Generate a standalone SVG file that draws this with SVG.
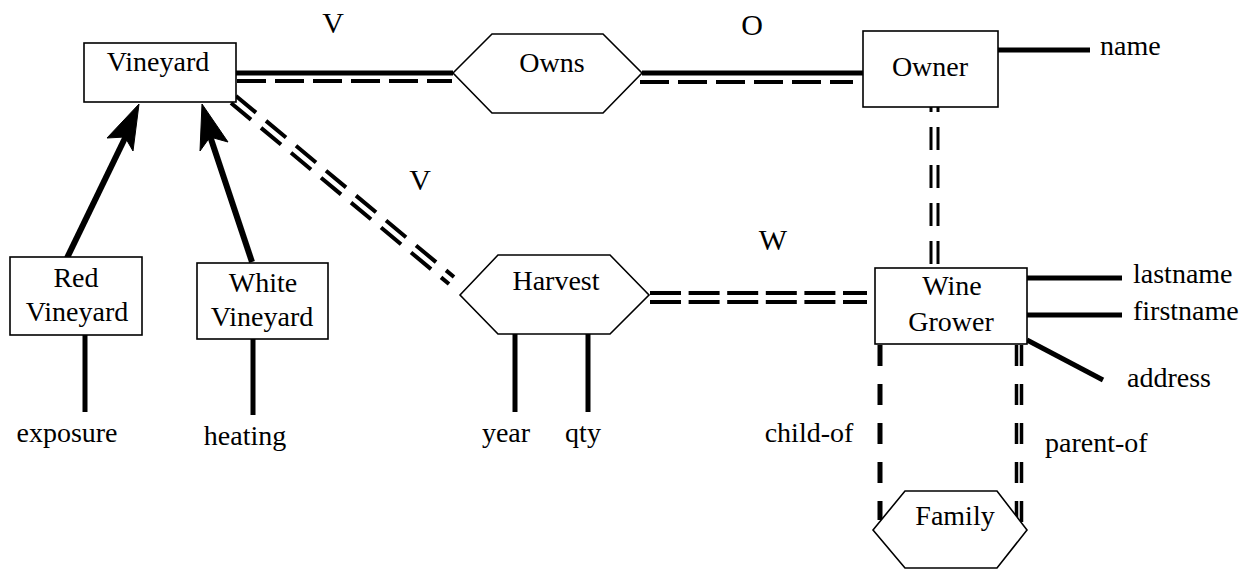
<svg xmlns="http://www.w3.org/2000/svg" width="1254" height="571" viewBox="0 0 1254 571">
<style>
text{font-family:"Liberation Serif","Times New Roman",serif;font-size:28px;fill:#000}
.lbl{font-size:30px}
.box{fill:#fff;stroke:#000;stroke-width:1.6}
.solid{stroke:#000;stroke-width:5;fill:none}
.dash{stroke:#000;stroke-width:4;fill:none;stroke-dasharray:29 9}
.dd{stroke:#000;stroke-width:4;fill:none;stroke-dasharray:31 7.6}
.vd{stroke:#000;stroke-width:3;fill:none;stroke-dasharray:23 15}
.cd{stroke:#000;stroke-width:5;fill:none;stroke-dasharray:21 18}
.diag{stroke:#000;stroke-width:4;fill:none;stroke-dasharray:26 13}
.arr{stroke:#000;stroke-width:6;fill:none}
</style>
<g id="connectors">
<line class="solid" x1="236" y1="73" x2="453" y2="73"/>
<line class="dash" x1="237" y1="81" x2="452" y2="81"/>
<line class="solid" x1="642" y1="73" x2="863" y2="73"/>
<line class="dash" x1="640" y1="82" x2="853" y2="82"/>
<line class="solid" x1="998" y1="50" x2="1090" y2="50"/>
<line class="vd" x1="931" y1="89" x2="931" y2="268"/>
<line class="vd" x1="938" y1="89" x2="938" y2="268"/>
<line class="diag" x1="236" y1="96" x2="454" y2="277"/>
<line class="diag" x1="231" y1="103" x2="449" y2="284"/>
<line class="dd" x1="650" y1="293" x2="867" y2="293"/>
<line class="dd" x1="650" y1="302" x2="867" y2="302"/>
<line class="solid" x1="515" y1="334" x2="515" y2="412"/>
<line class="solid" x1="588" y1="334" x2="588" y2="412"/>
<line class="solid" x1="85" y1="335" x2="85" y2="412"/>
<line class="solid" x1="253" y1="339" x2="253" y2="415"/>
<line class="solid" x1="1027" y1="278" x2="1122" y2="278"/>
<line class="solid" x1="1027" y1="315" x2="1122" y2="315"/>
<line class="solid" x1="1027" y1="340" x2="1103" y2="380"/>
<line class="cd" x1="880" y1="345" x2="880" y2="520"/>
<line class="cd" x1="1016.5" y1="345" x2="1016.5" y2="522" style="stroke-width:3.5"/>
<line class="cd" x1="1021.5" y1="345" x2="1021.5" y2="522" style="stroke-width:3.5"/>
<line class="arr" x1="67" y1="258" x2="126" y2="136"/>
<polygon points="139,104 133,151 125,137 107,138" fill="#000" stroke="#000" stroke-width="1"/>
<line class="arr" x1="252" y1="262" x2="210" y2="136"/>
<polygon points="202,104 228,142 210,137 200,151" fill="#000" stroke="#000" stroke-width="1"/>
</g>
<g id="vineyard"><rect class="box" x="84" y="43" width="152" height="59"/><text x="158" y="71" text-anchor="middle">Vineyard</text></g>
<g id="owns"><polygon class="box" points="453,73 492,34 603,34 642,73 603,113 492,113"/><text x="552" y="72" text-anchor="middle">Owns</text></g>
<g id="owner"><rect class="box" x="863" y="31" width="135" height="76"/><text x="930" y="76" text-anchor="middle">Owner</text></g>
<g id="attr-name"><text x="1100" y="55">name</text></g>
<g id="red-vineyard"><rect class="box" x="10" y="257" width="132" height="78"/><text x="76" y="287" text-anchor="middle">Red</text><text x="77" y="321" text-anchor="middle">Vineyard</text></g>
<g id="white-vineyard"><rect class="box" x="197" y="263" width="131" height="76"/><text x="263" y="292" text-anchor="middle">White</text><text x="262" y="326" text-anchor="middle">Vineyard</text></g>
<g id="attr-exposure"><text x="67" y="442" text-anchor="middle">exposure</text></g>
<g id="attr-heating"><text x="245" y="445" text-anchor="middle">heating</text></g>
<g id="harvest"><polygon class="box" points="460,295 498,255 610,255 649,295 610,334 498,334"/><text x="556" y="290" text-anchor="middle">Harvest</text></g>
<g id="attr-year"><text x="506" y="442" text-anchor="middle">year</text></g>
<g id="attr-qty"><text x="583" y="442" text-anchor="middle">qty</text></g>
<g id="wine-grower"><rect class="box" x="875" y="268" width="152" height="76"/><text x="952" y="295" text-anchor="middle">Wine</text><text x="951" y="331" text-anchor="middle">Grower</text></g>
<g id="attr-lastname"><text x="1133" y="283">lastname</text></g>
<g id="attr-firstname"><text x="1133" y="320">firstname</text></g>
<g id="attr-address"><text x="1127" y="387">address</text></g>
<g id="family"><polygon class="box" points="873,530 905,491 997,491 1027,530 997,568 905,568"/><text x="955" y="525" text-anchor="middle">Family</text></g>
<g id="labels">
<text class="lbl" x="333" y="33" text-anchor="middle">V</text>
<text class="lbl" x="752" y="35" text-anchor="middle">O</text>
<text class="lbl" x="420" y="190" text-anchor="middle">V</text>
<text class="lbl" x="773" y="250" text-anchor="middle">W</text>
<text x="809" y="442" text-anchor="middle">child-of</text>
<text x="1045" y="452">parent-of</text>
</g>
</svg>
